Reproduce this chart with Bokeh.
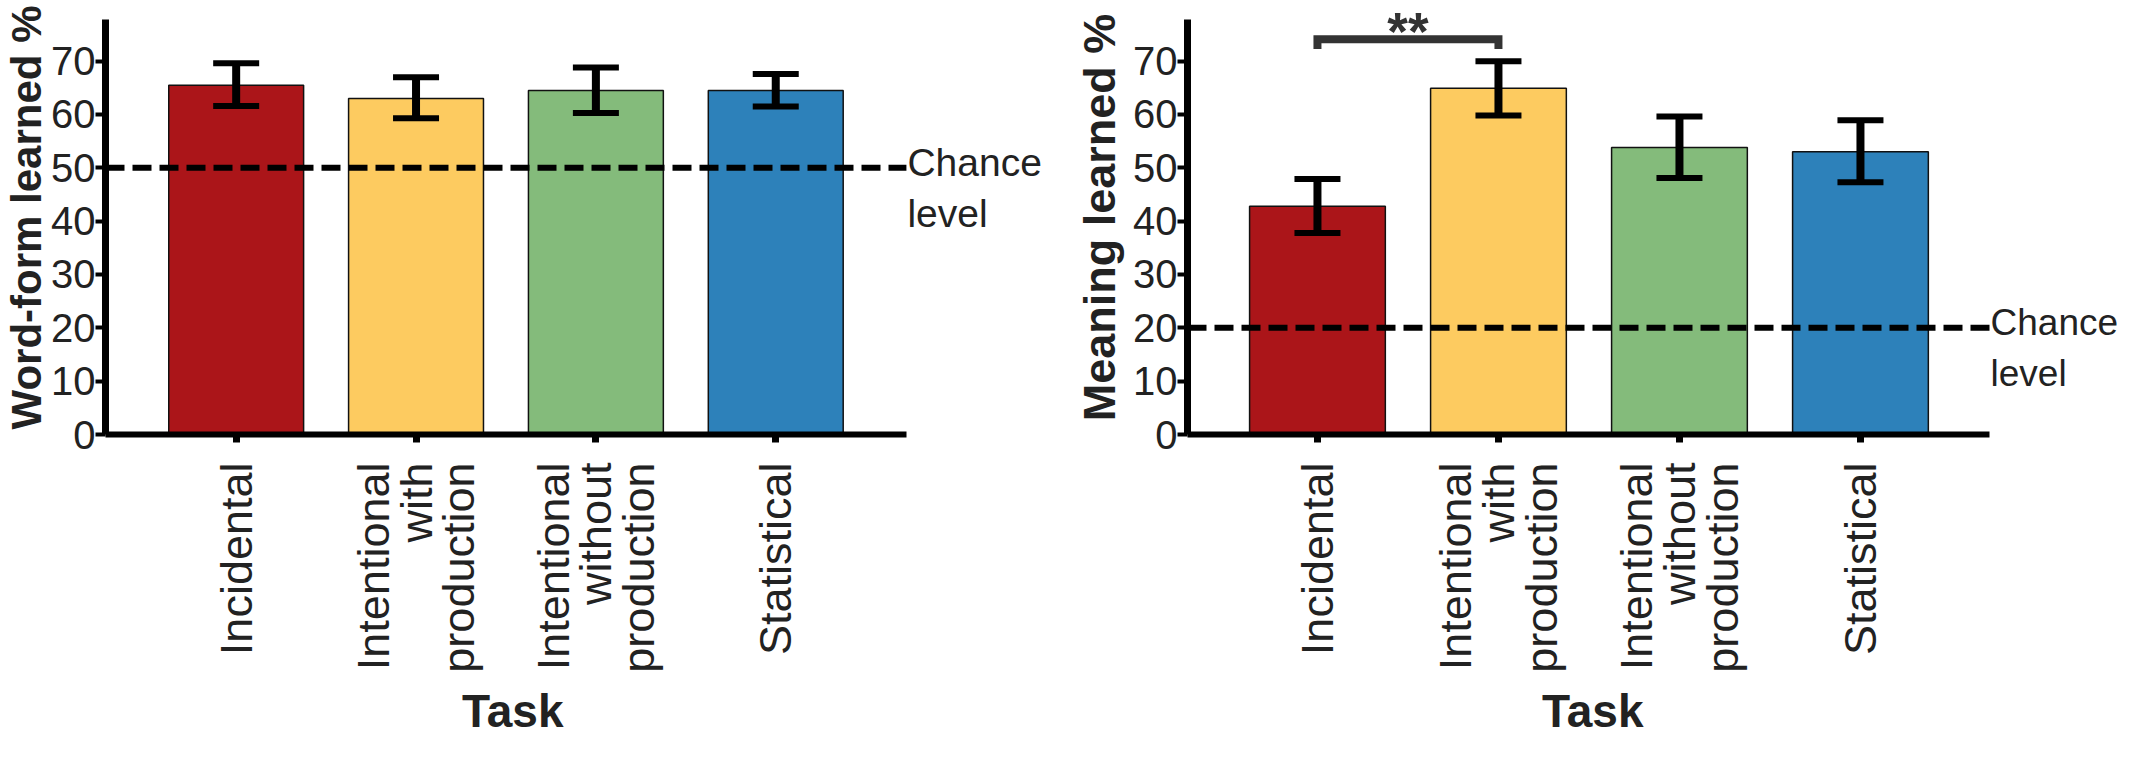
import numpy as np
from bokeh.plotting import figure
from bokeh.models import (Range1d, FixedTicker, Label, Whisker, TeeHead,
                          ColumnDataSource, Title)
from bokeh.layouts import row
from bokeh.embed import file_html
from bokeh.resources import INLINE

# ---------------- data ----------------
tasks = ["Incidental", "Intentional with production",
         "Intentional without production", "Statistical"]
tick_labels = ["Incidental", "Intentional\nwith\nproduction",
               "Intentional\nwithout\nproduction", "Statistical"]
bar_colors = ["#AB1519", "#FDCB60", "#84BB7B", "#2D81BA"]

wordform_mean = [65.5, 63.0, 64.5, 64.5]
wordform_lower = [61.6, 59.3, 60.3, 61.5]
wordform_upper = [69.6, 67.0, 68.8, 67.6]
wordform_chance = 50

meaning_mean = [42.8, 64.9, 53.8, 53.0]
meaning_lower = [37.8, 59.8, 48.1, 47.3]
meaning_upper = [47.9, 70.0, 59.6, 58.9]
meaning_chance = 20

y_ticks = [0, 10, 20, 30, 40, 50, 60, 70]
sig_pair = [0, 1]
sig_text = "**"
x_title = "Task"

SANS = "Liberation Sans"
TXT = "#222222"

H = 748
FRAME_H = 434
Y_TOP = 81.37
Y_AXIS_END = 77.8
PX_PER_CAT = 181.0
TASK_W = 104.8  # approx. width of the bold "Task" title (46px)


def make_panel(ylabel, ylab_size, mean, lower, upper, chance, chance_size,
               W, frame_left, axis_w, x_start, ylab_standoff, sig=False):
    frame_w = W - frame_left
    x_end = x_start + frame_w / PX_PER_CAT
    axis_end = x_start + axis_w / PX_PER_CAT

    p = figure(width=W, height=H, x_range=Range1d(x_start, x_end),
               y_range=Range1d(0, Y_TOP), output_backend="svg",
               toolbar_location=None,
               min_border_left=frame_left, min_border_right=0,
               min_border_top=0, min_border_bottom=H - FRAME_H)
    p.xgrid.visible = False
    p.ygrid.visible = False
    p.outline_line_color = None
    p.background_fill_color = "white"

    xs = list(range(len(tasks)))
    src = ColumnDataSource(dict(x=xs, top=mean, lower=lower, upper=upper,
                                color=bar_colors))
    p.vbar(x="x", top="top", bottom=0, width=0.75, fill_color="color",
           line_color="#111111", line_width=1.5, source=src)

    # chance level line
    p.segment(x0=x_start, y0=chance, x1=axis_end, y1=chance, line_color="black",
              line_width=6, line_dash="19 8")

    w = Whisker(source=src, base="x", lower="lower", upper="upper",
                dimension="height", line_color="black", line_width=8,
                upper_head=TeeHead(size=46, line_width=6, line_color="black"),
                lower_head=TeeHead(size=46, line_width=6, line_color="black"))
    w.level = "annotation"
    p.add_layout(w)

    # y axis
    ya = p.yaxis[0]
    ya.ticker = FixedTicker(ticks=y_ticks, minor_ticks=[])
    ya.bounds = (0, Y_AXIS_END)
    ya.axis_line_width = 7
    ya.axis_line_color = "black"
    ya.major_tick_line_width = 4
    ya.major_tick_out = 10
    ya.major_tick_in = 0
    ya.minor_tick_out = 0
    ya.minor_tick_in = 0
    ya.major_label_standoff = 0
    ya.major_label_text_font = SANS
    ya.major_label_text_font_size = "40px"
    ya.major_label_text_color = TXT
    ya.axis_label = ylabel
    ya.axis_label_text_font = SANS
    ya.axis_label_text_font_style = "bold"
    ya.axis_label_text_font_size = ylab_size
    ya.axis_label_text_color = TXT
    ya.axis_label_standoff = ylab_standoff

    # x axis
    xa = p.xaxis[0]
    xa.ticker = FixedTicker(ticks=xs, minor_ticks=[])
    xa.major_label_overrides = {i: t for i, t in zip(xs, tick_labels)}
    xa.major_label_orientation = np.pi / 2
    xa.bounds = (x_start - 9 / PX_PER_CAT, axis_end)
    xa.axis_line_width = 6
    xa.axis_line_color = "black"
    xa.major_tick_line_width = 7
    xa.major_tick_out = 8
    xa.major_tick_in = 0
    xa.minor_tick_out = 0
    xa.minor_tick_in = 0
    xa.major_label_standoff = 20
    xa.major_label_text_font = SANS
    xa.major_label_text_font_size = "45px"
    xa.major_label_text_line_height = 0.84
    xa.major_label_text_color = TXT

    # x axis title, centred under the axis line (not under the wider frame)
    p.add_layout(Title(text=x_title, align="left",
                       offset=axis_w / 2 + 6 - TASK_W / 2, standoff=15,
                       text_font=SANS, text_font_style="bold",
                       text_font_size="46px", text_color=TXT), "below")

    # chance text
    p.add_layout(Label(x=axis_end, y=chance, x_offset=1, y_offset=5, text="Chance",
                       text_align="left", text_baseline="alphabetic",
                       text_font=SANS, text_font_size=chance_size, text_color=TXT))
    p.add_layout(Label(x=axis_end, y=chance, x_offset=1, y_offset=-46, text="level",
                       text_align="left", text_baseline="alphabetic",
                       text_font=SANS, text_font_size=chance_size, text_color=TXT))

    if sig:
        a, b = sig_pair
        top = max(upper[a], upper[b]) + 4.1
        p.line(x=[a, a, b, b], y=[top - 1.8, top, top, top - 1.8],
               line_width=8, line_color="#333333", line_join="miter")
        # significance stars, hung from the top edge of the plot area
        p.add_layout(Label(x=(a + b) / 2, y=Y_TOP, y_offset=-1, text=sig_text,
                           text_align="center", text_baseline="top",
                           text_font=SANS, text_font_style="bold",
                           text_font_size="53px", text_color="#333333"))
    return p


p1 = make_panel("Word-form learned %", "42px", wordform_mean, wordform_lower,
                wordform_upper, wordform_chance, "39px",
                1052, 99, 806, -0.7265, -2)
p2 = make_panel("Meaning learned %", "45px", meaning_mean, meaning_lower,
                meaning_upper, meaning_chance, "37px",
                1065, 135, 802, -0.718, 5, sig=True)

layout = row(p1, p2)
open("out.html", "w").write(file_html(layout, INLINE))
